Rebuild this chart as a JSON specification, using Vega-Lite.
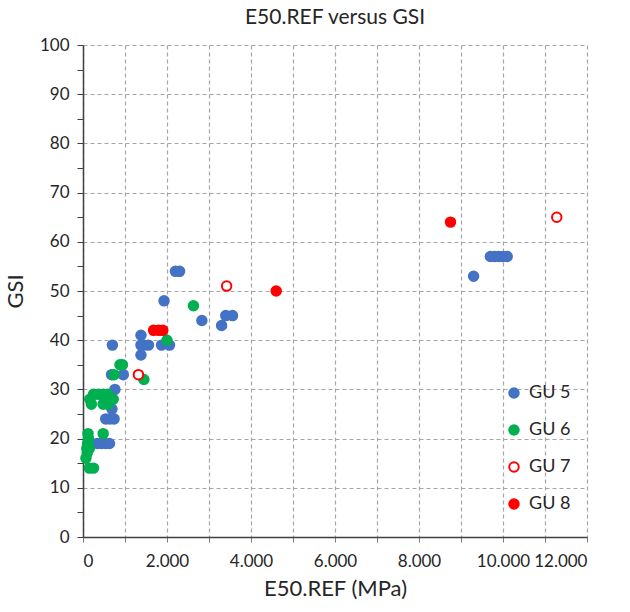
{
  "$schema": "https://vega.github.io/schema/vega-lite/v6.json",
  "width": 504,
  "height": 492,
  "autosize": "none",
  "padding": {"left": 83, "top": 45, "right": 43, "bottom": 75},
  "background": "white",
  "config": {
    "font": "Lato",
    "view": {"stroke": null},
    "axis": {"labelFont": "Lato", "titleFont": "Lato", "labelColor": "#262626", "titleColor": "#262626", "titleFontWeight": "normal"}
  },
  "title": {"text": "E50.REF versus GSI", "fontSize": 21, "fontWeight": "normal", "font": "Lato", "color": "#262626", "offset": 8},
  "data": {
    "values": [
      {"E": 2200, "GSI": 54, "group": "GU 5"},
      {"E": 2300, "GSI": 54, "group": "GU 5"},
      {"E": 1930, "GSI": 48, "group": "GU 5"},
      {"E": 2830, "GSI": 44, "group": "GU 5"},
      {"E": 3400, "GSI": 45, "group": "GU 5"},
      {"E": 3560, "GSI": 45, "group": "GU 5"},
      {"E": 3300, "GSI": 43, "group": "GU 5"},
      {"E": 1380, "GSI": 41, "group": "GU 5"},
      {"E": 1380, "GSI": 39, "group": "GU 5"},
      {"E": 1450, "GSI": 39, "group": "GU 5"},
      {"E": 1560, "GSI": 39, "group": "GU 5"},
      {"E": 1870, "GSI": 39, "group": "GU 5"},
      {"E": 2060, "GSI": 39, "group": "GU 5"},
      {"E": 700, "GSI": 39, "group": "GU 5"},
      {"E": 1380, "GSI": 37, "group": "GU 5"},
      {"E": 680, "GSI": 33, "group": "GU 5"},
      {"E": 960, "GSI": 33, "group": "GU 5"},
      {"E": 760, "GSI": 30, "group": "GU 5"},
      {"E": 690, "GSI": 26, "group": "GU 5"},
      {"E": 540, "GSI": 24, "group": "GU 5"},
      {"E": 640, "GSI": 24, "group": "GU 5"},
      {"E": 740, "GSI": 24, "group": "GU 5"},
      {"E": 340, "GSI": 19, "group": "GU 5"},
      {"E": 440, "GSI": 19, "group": "GU 5"},
      {"E": 540, "GSI": 19, "group": "GU 5"},
      {"E": 630, "GSI": 19, "group": "GU 5"},
      {"E": 9300, "GSI": 53, "group": "GU 5"},
      {"E": 9700, "GSI": 57, "group": "GU 5"},
      {"E": 9800, "GSI": 57, "group": "GU 5"},
      {"E": 9900, "GSI": 57, "group": "GU 5"},
      {"E": 10000, "GSI": 57, "group": "GU 5"},
      {"E": 10100, "GSI": 57, "group": "GU 5"},
      {"E": 2630, "GSI": 47, "group": "GU 6"},
      {"E": 2000, "GSI": 40, "group": "GU 6"},
      {"E": 880, "GSI": 35, "group": "GU 6"},
      {"E": 940, "GSI": 35, "group": "GU 6"},
      {"E": 740, "GSI": 33, "group": "GU 6"},
      {"E": 1450, "GSI": 32, "group": "GU 6"},
      {"E": 160, "GSI": 28, "group": "GU 6"},
      {"E": 250, "GSI": 29, "group": "GU 6"},
      {"E": 370, "GSI": 29, "group": "GU 6"},
      {"E": 480, "GSI": 29, "group": "GU 6"},
      {"E": 590, "GSI": 29, "group": "GU 6"},
      {"E": 720, "GSI": 28, "group": "GU 6"},
      {"E": 200, "GSI": 27, "group": "GU 6"},
      {"E": 480, "GSI": 27, "group": "GU 6"},
      {"E": 600, "GSI": 27, "group": "GU 6"},
      {"E": 480, "GSI": 21, "group": "GU 6"},
      {"E": 120, "GSI": 21, "group": "GU 6"},
      {"E": 130, "GSI": 20, "group": "GU 6"},
      {"E": 110, "GSI": 19, "group": "GU 6"},
      {"E": 90, "GSI": 18, "group": "GU 6"},
      {"E": 150, "GSI": 18, "group": "GU 6"},
      {"E": 100, "GSI": 17, "group": "GU 6"},
      {"E": 70, "GSI": 16, "group": "GU 6"},
      {"E": 150, "GSI": 14, "group": "GU 6"},
      {"E": 250, "GSI": 14, "group": "GU 6"},
      {"E": 1320, "GSI": 33, "group": "GU 7"},
      {"E": 3420, "GSI": 51, "group": "GU 7"},
      {"E": 11280, "GSI": 65, "group": "GU 7"},
      {"E": 1680, "GSI": 42, "group": "GU 8"},
      {"E": 1800, "GSI": 42, "group": "GU 8"},
      {"E": 1900, "GSI": 42, "group": "GU 8"},
      {"E": 4600, "GSI": 50, "group": "GU 8"},
      {"E": 8750, "GSI": 64, "group": "GU 8"}
    ]
  },
  "mark": {"type": "point", "shape": "circle", "filled": true, "strokeWidth": 2, "opacity": 1},
  "encoding": {
    "x": {
      "field": "E", "type": "quantitative",
      "scale": {"domain": [0, 12000], "nice": false},
      "axis": {
        "values": [0, 1000, 2000, 3000, 4000, 5000, 6000, 7000, 8000, 9000, 10000, 11000, 12000],
        "labelExpr": "datum.value % 2000 == 0 ? replace(format(datum.value, ','), ',', '.') : ''",
        "title": "E50.REF (MPa)",
        "titleFontSize": 22,
        "titlePadding": 9,
        "labelFontSize": 17,
        "labelPadding": 11,
        "tickSize": 5,
        "tickColor": "#7f7f7f",
        "domainColor": "#404040",
        "domainWidth": 1.5,
        "grid": true,
        "gridColor": "#a6a6a6",
        "gridDash": [4, 3],
        "gridWidth": 1.2
      }
    },
    "y": {
      "field": "GSI", "type": "quantitative",
      "scale": {"domain": [0, 100], "nice": false},
      "axis": {
        "values": [0, 5, 10, 15, 20, 25, 30, 35, 40, 45, 50, 55, 60, 65, 70, 75, 80, 85, 90, 95, 100],
        "labelExpr": "datum.value % 10 == 0 ? datum.label : ''",
        "title": "GSI",
        "titleFontSize": 22,
        "titlePadding": 12,
        "labelFontSize": 17,
        "labelPadding": 8,
        "tickSize": 6,
        "tickColor": "#404040",
        "domainColor": "#404040",
        "domainWidth": 1.5,
        "grid": true,
        "gridColor": "#a6a6a6",
        "gridDash": [4, 3],
        "gridWidth": 1.2,
        "gridOpacity": {"condition": {"test": "datum.value % 10 == 0", "value": 1}, "value": 0}
      }
    },
    "fill": {
      "field": "group", "type": "nominal",
      "scale": {"domain": ["GU 5", "GU 6", "GU 7", "GU 8"], "range": ["#4472C4", "#00B050", "#FFFFFF", "#FF0000"]},
      "legend": {
        "title": null, "orient": "none", "legendX": 422, "legendY": 339,
        "labelFontSize": 18, "labelColor": "#262626", "labelFont": "Lato", "rowPadding": 19, "symbolStrokeWidth": 2, "labelOffset": 6
      }
    },
    "stroke": {
      "field": "group", "type": "nominal",
      "scale": {"domain": ["GU 5", "GU 6", "GU 7", "GU 8"], "range": ["#4472C4", "#00B050", "#FF0000", "#FF0000"]},
      "legend": {
        "title": null, "orient": "none", "legendX": 422, "legendY": 339,
        "labelFontSize": 18, "labelColor": "#262626", "labelFont": "Lato", "rowPadding": 19, "symbolStrokeWidth": 2, "labelOffset": 6
      }
    },
    "size": {
      "field": "group", "type": "nominal",
      "scale": {"domain": ["GU 5", "GU 6", "GU 7", "GU 8"], "range": [90, 90, 48, 90]},
      "legend": {
        "title": null, "orient": "none", "legendX": 422, "legendY": 339,
        "labelFontSize": 18, "labelColor": "#262626", "labelFont": "Lato", "rowPadding": 19, "symbolStrokeWidth": 2, "labelOffset": 6
      }
    }
  }
}
